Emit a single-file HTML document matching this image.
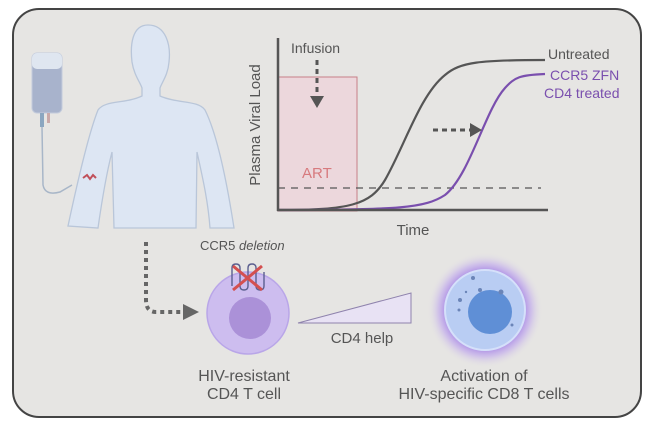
<!DOCTYPE html>
<html><head><meta charset="utf-8"><style>
body{margin:0;background:#fff;width:650px;height:425px;overflow:hidden}
svg{display:block}
text{font-family:"Liberation Sans",sans-serif}
</style></head><body>
<svg width="650" height="425" viewBox="0 0 650 425">
<defs>
<radialGradient id="glow" cx="50%" cy="50%" r="50%">
<stop offset="0.6" stop-color="#8a5ce0" stop-opacity="0.9"/>
<stop offset="0.8" stop-color="#b79af0" stop-opacity="0.5"/>
<stop offset="1" stop-color="#e6e5e3" stop-opacity="0"/>
</radialGradient>
</defs>
<rect x="13" y="9" width="628" height="408" rx="26" fill="#e6e5e3" stroke="#444" stroke-width="2"/>
<!-- IV bag -->
<rect x="32" y="53" width="30" height="60" rx="5" fill="#a8b3cc" stroke="#c3cbdc"/>
<rect x="32" y="53" width="30" height="16" rx="5" fill="#dfe6f0"/>
<rect x="40" y="113" width="4" height="14" fill="#8ba6c0"/>
<rect x="47" y="113" width="3" height="10" fill="#c9a9a9"/>
<path d="M42 127 L43 185 Q45 196 60 192 L72 185" fill="none" stroke="#a8b6c8" stroke-width="1.5"/>
<!-- body -->
<path d="M148 25 C132 25 130 45 132 62 C134 75 140 82 142 88 L142 96 C125 104 105 100 98 110 C90 130 80 170 68 226 L98 228 C102 200 106 175 112 152 L114 228 L196 228 L197 152 C202 175 208 200 210 228 L234 228 C225 170 215 130 205 110 C198 100 178 104 160 96 L160 88 C162 82 168 75 169 62 C171 45 166 25 148 25 Z" fill="#dde6f3" stroke="#b9c6d9" stroke-width="1.3"/>
<path d="M83 178 l4 -3 l3 4 l3 -4 l3 3" fill="none" stroke="#c0505a" stroke-width="2"/>
<!-- graph -->
<rect x="278" y="77" width="79" height="134" fill="#ecd7dc" stroke="#c77f87" stroke-width="1"/>
<line x1="278" y1="188" x2="541" y2="188" stroke="#555" stroke-width="1.3" stroke-dasharray="7,6"/>
<path d="M278 210 C350 210 370 205 385 180 C405 145 420 95 445 75 C460 62 480 60 545 60" fill="none" stroke="#555" stroke-width="2.2"/>
<path d="M278 210 C400 210 425 208 445 195 C470 175 485 110 505 88 C515 77 520 75 545 74" fill="none" stroke="#7a4fae" stroke-width="2.2"/>
<line x1="278" y1="38" x2="278" y2="211" stroke="#555" stroke-width="2.5"/>
<line x1="277" y1="210" x2="548" y2="210" stroke="#555" stroke-width="2.5"/>
<line x1="317" y1="60" x2="317" y2="96" stroke="#555" stroke-width="3" stroke-dasharray="5,4"/>
<polygon points="310,96 324,96 317,108" fill="#555"/>
<line x1="433" y1="130" x2="470" y2="130" stroke="#555" stroke-width="3" stroke-dasharray="5,4"/>
<polygon points="470,123 482,130 470,137" fill="#555"/>
<text x="291" y="53" font-size="14" fill="#555">Infusion</text>
<text x="302" y="178" font-size="15" fill="#d77a7e">ART</text>
<text x="260" y="125" font-size="15" fill="#555" text-anchor="middle" transform="rotate(-90 260 125)">Plasma Viral Load</text>
<text x="413" y="235" font-size="15" fill="#555" text-anchor="middle">Time</text>
<text x="548" y="59" font-size="14" fill="#555">Untreated</text>
<text x="550" y="80" font-size="14" fill="#7a4fae">CCR5 ZFN</text>
<text x="544" y="98" font-size="14" fill="#7a4fae">CD4 treated</text>
<!-- dotted arrow -->
<path d="M146 242 L146 300 Q146 312 156 312 L183 312" fill="none" stroke="#666" stroke-width="4" stroke-dasharray="4,4"/>
<polygon points="183,304 199,312 183,320" fill="#666"/>
<!-- CD4 cell -->
<circle cx="248" cy="313" r="41" fill="#cdbdef" stroke="#b9a6e8" stroke-width="1.5"/>
<circle cx="250" cy="318" r="21" fill="#ab91d8"/>
<g fill="none" stroke="#5b5f8f" stroke-width="1.4">
<path d="M232 286 v-18 q0-4 4-4 q4 0 4 4 v18 q0 4 4 4 q4 0 4-4 v-18 q0-4 4-4 q4 0 4 4 v18 q0 4 4 4 q4 0 4-4 v-14"/>
</g>
<path d="M233 266 L262 290 M262 266 L233 290" stroke="#d45050" stroke-width="3"/>
<text x="200" y="250" font-size="13" fill="#555">CCR5 <tspan font-style="italic">deletion</tspan></text>
<!-- triangle -->
<polygon points="298,323 411,293 411,323" fill="#e8e2f4" stroke="#8f83ad" stroke-width="1"/>
<text x="362" y="343" font-size="15" fill="#555" text-anchor="middle">CD4 help</text>
<!-- CD8 cell -->
<circle cx="485" cy="310" r="58" fill="url(#glow)"/>
<circle cx="485" cy="310" r="40" fill="#b9cdf3" stroke="#d5e0fa" stroke-width="2"/>
<circle cx="490" cy="312" r="22" fill="#5f8fd6"/>
<g fill="#6b85b8"><circle cx="473" cy="278" r="2"/><circle cx="480" cy="290" r="2"/><circle cx="501" cy="292" r="2.5"/><circle cx="460" cy="300" r="2"/><circle cx="459" cy="310" r="1.5"/><circle cx="466" cy="292" r="1.2"/><circle cx="512" cy="325" r="1.5"/></g>
<text x="244" y="381" font-size="16" fill="#555" text-anchor="middle">HIV-resistant</text>
<text x="244" y="399" font-size="16" fill="#555" text-anchor="middle">CD4 T cell</text>
<text x="484" y="381" font-size="16" fill="#555" text-anchor="middle">Activation of</text>
<text x="484" y="399" font-size="16" fill="#555" text-anchor="middle">HIV-specific CD8 T cells</text>
</svg>
</body></html>
